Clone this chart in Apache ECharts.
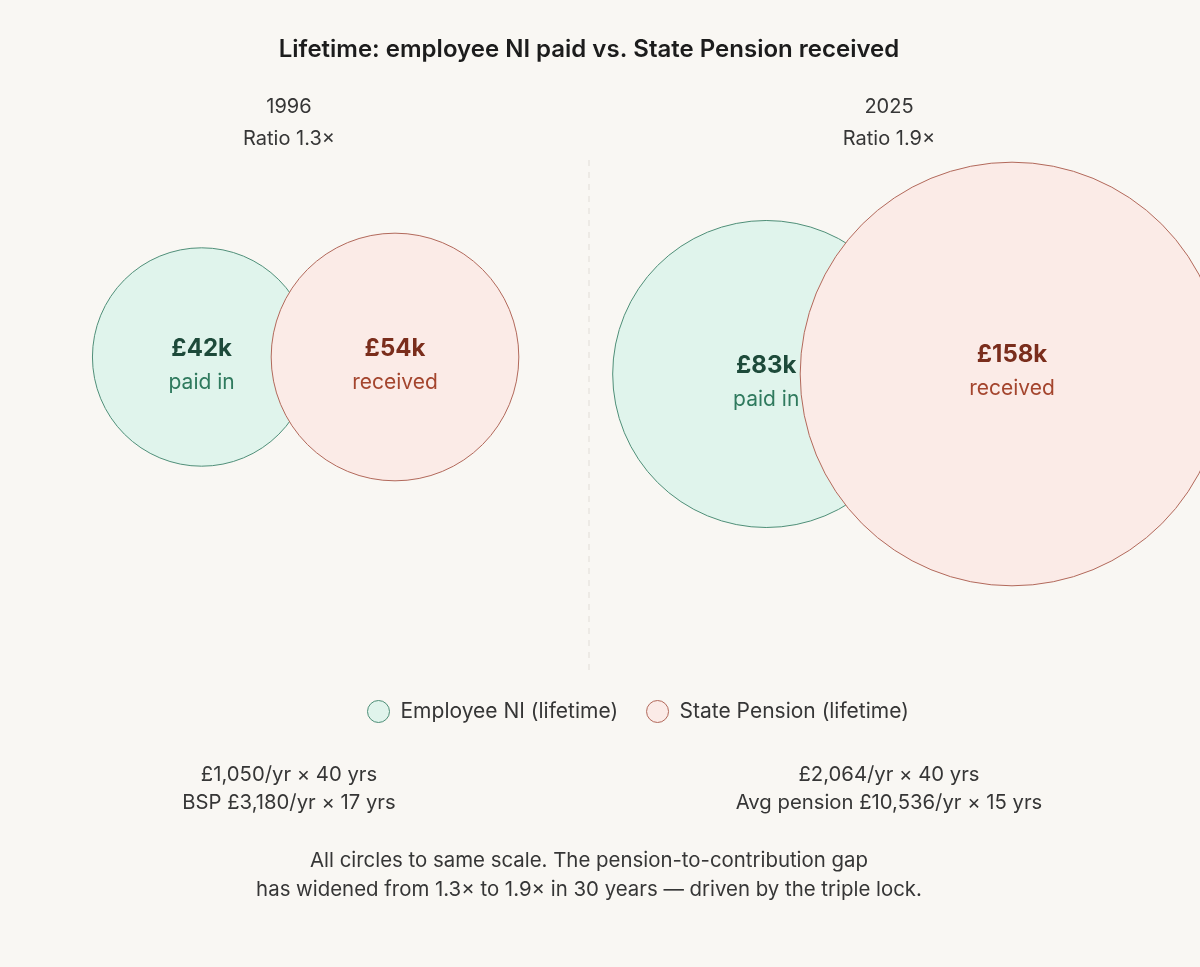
<!DOCTYPE html>
<html><head><meta charset="utf-8">
<script src="https://cdn.jsdelivr.net/npm/echarts@6/dist/echarts.min.js"></script>
<style>html,body{margin:0;padding:0;background:#f9f7f3}#c{width:1200px;height:967px}</style>
</head><body><div id="c"></div><script>
// ---- data ----
const years = ['1996', '2025'];
const ratios = ['Ratio 1.3×', 'Ratio 1.9×'];
const paidIn = [42, 83];        // £k lifetime employee NI
const received = [54, 158];     // £k lifetime State Pension
const paidLabel = 'paid in';
const recvLabel = 'received';
const notesPaid = ['£1,050/yr × 40 yrs', '£2,064/yr × 40 yrs'];
const notesRecv = ['BSP £3,180/yr × 17 yrs', 'Avg pension £10,536/yr × 15 yrs'];
const seriesNames = ['Employee NI (lifetime)', 'State Pension (lifetime)'];
const titleText = 'Lifetime: employee NI paid vs. State Pension received';
const footerLines = ['All circles to same scale. The pension-to-contribution gap',
  'has widened from 1.3× to 1.9× in 30 years — driven by the triple lock.'];

// ---- layout ----
const FONT = 'Inter, "Noto Sans", sans-serif';
const TXT = '#363636';
const panelCenter = [289, 889];
const circleY = [357, 374];
const redShift = [106, 123];
const K = 16.85; // px radius per sqrt(£k), same scale for all circles
const rad = v => K * Math.sqrt(v);

const greenData = paidIn.map((v, i) => ({
  value: [panelCenter[i] - 0.8 * rad(v), circleY[i], v]
}));
const redData = received.map((v, i) => ({
  value: [panelCenter[i] + redShift[i], circleY[i], v],
  label: i === 1 ? { offset: [0, -2] } : undefined
}));

const fmt = v => '£' + v + 'k';

const txt = (text, x, top, size, weight, color) => ({
  text, left: x, top, textAlign: 'center', padding: 0,
  textStyle: { fontFamily: FONT, fontSize: size, fontWeight: weight || 400, color: color || TXT }
});

const titles = [txt(titleText, 589, 38, 24, 600, '#1c1c1c')];
years.forEach((y, i) => {
  titles.push(txt(y, panelCenter[i], 97, 20));
  titles.push(txt(ratios[i], panelCenter[i], 129, 20));
  titles.push(txt(notesPaid[i], panelCenter[i], 765, 20.3));
  titles.push(txt(notesRecv[i], panelCenter[i], 793, 20.3));
});
footerLines.forEach((t, i) => titles.push(txt(t, 589, 851 + i * 29, 20.4)));

const chart = echarts.init(document.getElementById('c'));
chart.setOption({
  backgroundColor: '#f9f7f3',
  animation: false,
  title: titles,
  grid: { left: 0, right: 0, top: 0, bottom: 0 },
  xAxis: { type: 'value', min: 0, max: 1200, show: false },
  yAxis: { type: 'value', min: 0, max: 967, inverse: true, show: false },
  legend: {
    data: seriesNames, left: 367, top: 700, icon: 'circle', padding: 0,
    itemWidth: 22, itemHeight: 22, itemGap: 28,
    itemStyle: { borderWidth: 1 },
    textStyle: { fontFamily: FONT, fontSize: 21, color: TXT, padding: [0, 0, 0, 6] }
  },
  graphic: [{
    type: 'line', shape: { x1: 589, y1: 160, x2: 589, y2: 670 },
    style: { stroke: '#e4e1dc', lineWidth: 1.2, lineDash: [6, 6] }, z: 0
  }],
  series: [
    {
      name: seriesNames[0], type: 'scatter', z: 2,
      data: greenData,
      symbolSize: d => 2 * rad(d[2]),
      itemStyle: { color: '#e0f4ec', borderColor: '#4f8f78', borderWidth: 1, opacity: 1 },
      label: {
        show: true, position: 'inside', offset: [0, 9],
        formatter: p => '{v|' + fmt(p.value[2]) + '}\n{s|' + paidLabel + '}',
        rich: {
          v: { fontFamily: FONT, fontSize: 24, fontWeight: 700, color: '#1d4a3a', lineHeight: 34 },
          s: { fontFamily: FONT, fontSize: 21, color: '#2f7a5e', lineHeight: 34 }
        }
      },
      emphasis: { disabled: true }
    },
    {
      name: seriesNames[1], type: 'scatter', z: 3,
      data: redData,
      symbolSize: d => 2 * rad(d[2]),
      itemStyle: { color: '#fbebe7', borderColor: '#b2695b', borderWidth: 1, opacity: 1 },
      label: {
        show: true, position: 'inside', offset: [0, 9],
        formatter: p => '{v|' + fmt(p.value[2]) + '}\n{s|' + recvLabel + '}',
        rich: {
          v: { fontFamily: FONT, fontSize: 24, fontWeight: 700, color: '#7a2d1c', lineHeight: 34 },
          s: { fontFamily: FONT, fontSize: 21, color: '#a4452e', lineHeight: 34 }
        }
      },
      emphasis: { disabled: true }
    }
  ]
});
</script></body></html>
